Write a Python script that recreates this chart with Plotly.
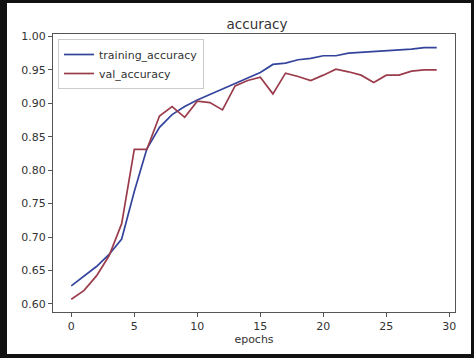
import plotly.graph_objects as go

epochs = list(range(30))
training_accuracy = [0.627, 0.641, 0.656, 0.674, 0.697, 0.768, 0.832, 0.864, 0.883, 0.895,
                     0.905, 0.913, 0.921, 0.929, 0.938, 0.946, 0.958, 0.960, 0.965, 0.967,
                     0.971, 0.971, 0.975, 0.976, 0.977, 0.978, 0.979, 0.981, 0.983, 0.983]
val_accuracy = [0.607, 0.620, 0.642, 0.672, 0.720, 0.831, 0.831, 0.881, 0.895, 0.879,
                0.903, 0.901, 0.890, 0.926, 0.934, 0.939, 0.914, 0.945, 0.940, 0.934,
                0.942, 0.951, 0.947, 0.942, 0.931, 0.942, 0.942, 0.948, 0.950, 0.950]
x_ticks = [0, 5, 10, 15, 20, 25, 30]
y_ticks = [0.60, 0.65, 0.70, 0.75, 0.80, 0.85, 0.90, 0.95, 1.00]

W, H = 474, 358
L, R, T, B = 53, 19, 34, 46

fig = go.Figure()
fig.add_trace(go.Scatter(x=epochs, y=training_accuracy, mode="lines", name="training_accuracy",
                         line=dict(color="#34449c", width=1.7)))
fig.add_trace(go.Scatter(x=epochs, y=val_accuracy, mode="lines", name="val_accuracy",
                         line=dict(color="#9a3c4c", width=1.7)))

pw = W - L - R
ph = H - T - B
def px_x(p):
    return (p - L) / pw
def px_y(p):
    return 1 - (p - T) / ph

shapes = []
for (x0, y0, x1, y1) in [(0, 0, 7, H), (0, 0, W, 3), (W - 3, 0, W, H), (0, H - 4, W, H)]:
    shapes.append(dict(type="rect", xref="paper", yref="paper",
                       x0=px_x(x0), x1=px_x(x1), y0=px_y(y1), y1=px_y(y0),
                       fillcolor="#111", line=dict(width=0), layer="above"))

axis_common = dict(showgrid=False, zeroline=False, showline=True, mirror=True,
                   linecolor="#555", linewidth=1, ticks="outside", ticklen=4,
                   tickcolor="#555", tickfont=dict(size=11, color="#333"))

fig.update_layout(
    width=W, height=H,
    margin=dict(l=L, r=R, t=T, b=B),
    paper_bgcolor="white", plot_bgcolor="white",
    font=dict(family="DejaVu Sans", color="#333"),
    title=dict(text="accuracy", x=257 / W, xanchor="center",
               y=1 - 24 / H, yanchor="middle", font=dict(size=13.5, color="#333")),
    xaxis=dict(range=[-1.45, 30.45], tickvals=x_ticks,
               title=dict(text="epochs", font=dict(size=11, color="#333"), standoff=3),
               **axis_common),
    yaxis=dict(range=[0.588, 1.0035], tickvals=y_ticks, tickformat=".2f",
               **axis_common),
    legend=dict(x=px_x(58), y=px_y(39), xanchor="left", yanchor="top",
                bgcolor="rgba(255,255,255,0.8)", bordercolor="#ccc", borderwidth=1,
                font=dict(size=11, color="#333"), tracegroupgap=0,
                itemwidth=30),
    shapes=shapes,
    showlegend=True,
)

fig.write_html("out.html", config={"displayModeBar": False},
               post_script="document.body.style.margin='0';document.body.style.overflow='hidden';")
